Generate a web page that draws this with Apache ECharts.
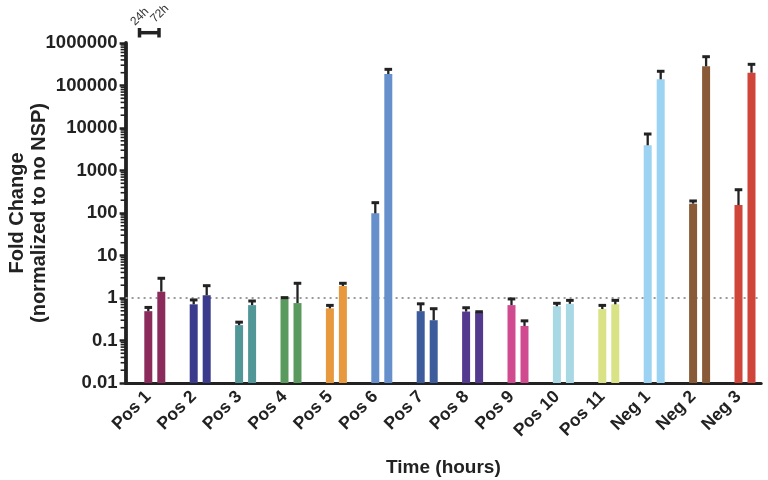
<!DOCTYPE html>
<html><head><meta charset="utf-8">
<script src="https://cdn.jsdelivr.net/npm/echarts@6/dist/echarts.min.js"></script>
<style>html,body{margin:0;padding:0;background:#fff}#c{width:768px;height:480px}</style>
</head><body><div id="c"></div>
<script>
const categories = ['Pos 1','Pos 2','Pos 3','Pos 4','Pos 5','Pos 6','Pos 7','Pos 8','Pos 9','Pos 10','Pos 11','Neg 1','Neg 2','Neg 3'];
const barColors = ['#8a2b5c','#3a3b8c','#519797','#5a9a5e','#e8993d','#6690cc','#3d5c9b','#543a8e','#d04a8f','#a8d8e4','#d9e386','#9dd3f2','#885a37','#d0453a'];
const mean24  = [0.49, 0.71, 0.23, 0.95, 0.57, 98,     0.49, 0.48, 0.68, 0.64, 0.55, 3920,   166,    154];
const upper24 = [0.60, 0.90, 0.27, 1.02, 0.67, 175,    0.73, 0.59, 0.95, 0.75, 0.67, 7220,   192,    353];
const mean72  = [1.41, 1.16, 0.68, 0.76, 1.92, 186000, 0.30, 0.46, 0.22, 0.73, 0.71, 140000, 283000, 200000];
const upper72 = [2.91, 1.95, 0.85, 2.22, 2.22, 240000, 0.56, 0.475,0.29, 0.88, 0.88, 216000, 476000, 315000];
const yMin = 0.01, yMax = 1000000;
const referenceLine = 1;
const legendLabels = ['24h', '72h'];
const xTitle = 'Time (hours)';
const yTitle = 'Fold Change\n(normalized to no NSP)';

const FONT = '"Liberation Sans", Arial, Helvetica, sans-serif';
const INK = '#222';
const BAR_W = 8, BAR_GAP = 5;

// minor log ticks (2..9 x 10^k) – axis decoration only
const minorTicks = [];
for (let k = Math.round(Math.log10(yMin)); k < Math.round(Math.log10(yMax)); k++) {
  for (let m = 2; m <= 9; m++) minorTicks.push([0, m * Math.pow(10, k)]);
}

function errorRender(offsetSlots) {
  return function (params, api) {
    const i = api.value(0);
    const pBase = api.coord([i, api.value(1)]);
    const pTop = api.coord([i, api.value(2)]);
    const x = pBase[0] + offsetSlots * (BAR_W + BAR_GAP);
    const cap = 3.8;
    return {
      type: 'group',
      children: [
        { type: 'line', shape: { x1: x, y1: pBase[1], x2: x, y2: pTop[1] }, style: { stroke: INK, lineWidth: 2.3 } },
        { type: 'line', shape: { x1: x - cap, y1: pTop[1], x2: x + cap, y2: pTop[1] }, style: { stroke: INK, lineWidth: 3 } }
      ]
    };
  };
}

const chart = echarts.init(document.getElementById('c'), null, { renderer: 'canvas' });
const option = {
  animation: false,
  backgroundColor: '#fff',
  grid: { left: 125.6, right: 6.8, top: 43, bottom: 97, containLabel: false, outerBoundsMode: 'none' },
  xAxis: {
    type: 'category', data: categories, boundaryGap: true,
    axisLine: { onZero: false, lineStyle: { color: INK, width: 3 } },
    axisTick: { alignWithLabel: true, length: 8, lineStyle: { color: INK, width: 3 } },
    axisLabel: { interval: 0, rotate: 45, margin: 11, color: INK, fontFamily: FONT, fontWeight: 'bold', fontSize: 17.5 },
    splitLine: { show: false },
    name: xTitle, nameLocation: 'middle', nameGap: 75, nameMoveOverlap: false,
    nameTextStyle: { color: INK, fontFamily: FONT, fontWeight: 'bold', fontSize: 19 }
  },
  yAxis: {
    type: 'log', logBase: 10, min: yMin, max: yMax, interval: 1, startValue: yMin,
    axisLine: { show: true, lineStyle: { color: INK, width: 3.8 } },
    axisTick: { show: true, length: 6, lineStyle: { color: INK, width: 2.5 } },
    axisLabel: { margin: 8, color: INK, fontFamily: FONT, fontWeight: 'bold', fontSize: 18.5,
      formatter: v => String(+(+v).toPrecision(6)) },
    splitLine: { show: false },
    name: yTitle, nameLocation: 'middle', nameGap: 75, nameRotate: 90, nameMoveOverlap: false,
    nameTextStyle: { color: INK, fontFamily: FONT, fontWeight: 'bold', fontSize: 20, lineHeight: 22, align: 'center' }
  },
  series: [
    {
      name: 'spacer', type: 'bar', data: categories.map(() => '-'), barWidth: BAR_W, barGap: (BAR_GAP / BAR_W * 100) + '%', z: 1,
      markLine: { silent: true, symbol: 'none', label: { show: false }, z: 1,
        lineStyle: { color: '#9a9a9a', type: [2, 4], width: 2 }, data: [{ yAxis: referenceLine }] }
    },
    {
      name: legendLabels[0], type: 'bar', data: mean24, barWidth: BAR_W, barGap: (BAR_GAP / BAR_W * 100) + '%', z: 2,
      itemStyle: { color: p => barColors[p.dataIndex] }
    },
    {
      name: legendLabels[1], type: 'bar', data: mean72, barWidth: BAR_W, barGap: (BAR_GAP / BAR_W * 100) + '%', z: 2,
      itemStyle: { color: p => barColors[p.dataIndex] }
    },
    {
      name: legendLabels[0] + ' error', type: 'custom', z: 3, clip: false,
      data: categories.map((c, i) => [i, mean24[i], upper24[i]]),
      encode: { x: 0, y: [1, 2] }, renderItem: errorRender(0)
    },
    {
      name: legendLabels[1] + ' error', type: 'custom', z: 3, clip: false,
      data: categories.map((c, i) => [i, mean72[i], upper72[i]]),
      encode: { x: 0, y: [1, 2] }, renderItem: errorRender(1)
    },
    {
      name: 'minor ticks', type: 'custom', z: 4, clip: false, silent: true,
      data: minorTicks, encode: { x: 0, y: 1 },
      renderItem: function (params, api) {
        const p = api.coord([0, api.value(1)]);
        const x0 = p[0] - api.size([1, 0])[0] / 2;
        return { type: 'line', shape: { x1: x0 - 5, y1: p[1], x2: x0, y2: p[1] }, style: { stroke: INK, lineWidth: 1.6 } };
      }
    }
  ],
  graphic: [
    { type: 'line', shape: { x1: 139.5, y1: 28, x2: 139.5, y2: 37.5 }, style: { stroke: INK, lineWidth: 3.5 } },
    { type: 'line', shape: { x1: 159, y1: 28, x2: 159, y2: 37.5 }, style: { stroke: INK, lineWidth: 3.5 } },
    { type: 'line', shape: { x1: 139.5, y1: 32.7, x2: 159, y2: 32.7 }, style: { stroke: INK, lineWidth: 3.5 } },
    { type: 'text', x: 137, y: 28, rotation: Math.PI / 4, style: { text: legendLabels[0], font: '12px ' + FONT, fill: '#333', textAlign: 'left', textVerticalAlign: 'bottom' } },
    { type: 'text', x: 157, y: 25, rotation: Math.PI / 4, style: { text: legendLabels[1], font: '12px ' + FONT, fill: '#333', textAlign: 'left', textVerticalAlign: 'bottom' } }
  ]
};
chart.setOption(option);
</script>
</body></html>
